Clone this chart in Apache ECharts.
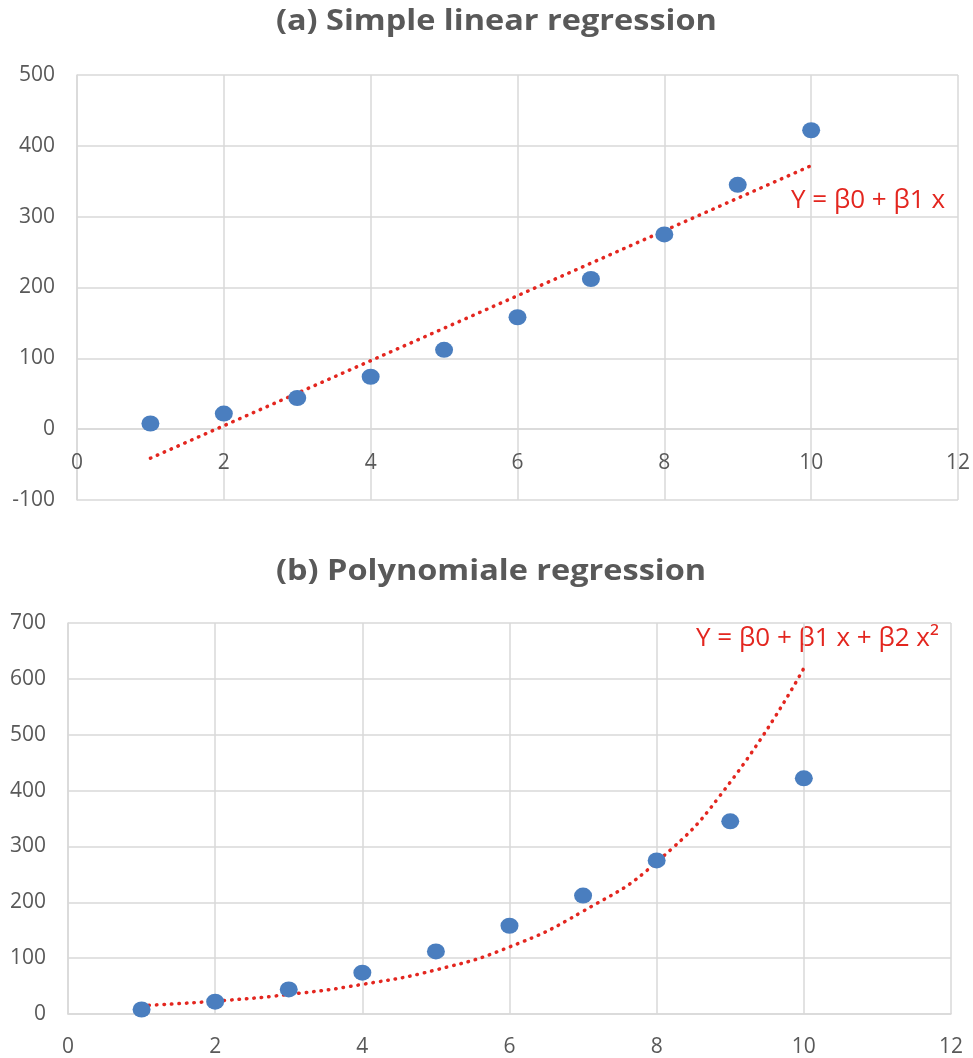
<!DOCTYPE html>
<html>
<head>
<meta charset="utf-8">
<script src="https://cdn.jsdelivr.net/npm/echarts@6/dist/echarts.min.js"></script>
<style>
html,body{margin:0;padding:0;background:#fff;}
#c{width:973px;height:1058px;}
</style>
</head>
<body>
<div id="c"></div>
<script>
// ---- data ----
const xValues = [1, 2, 3, 4, 5, 6, 7, 8, 9, 10];
const yValues = [8, 22, 44, 74, 112, 158, 212, 275, 345, 422];
const linearTrendX = [1, 10];
const linearTrendY = [-41, 372];
const polyTrendY = [15, 23, 35, 53, 79, 120, 184, 272, 415, 619];
const titles = ['(a) Simple linear regression', '(b) Polynomiale regression'];
const equations = ['Y = \u03b20 + \u03b21 x', 'Y = \u03b20 + \u03b21 x + \u03b22 x\u00b2'];

const GRAY = '#595959';
const GRID = '#d9d9d9';
const RED = '#e3261f';
const BLUE = '#4a7ebf';
const FONT = 'Open Sans';

const pts = xValues.map((x, i) => [x, yValues[i]]);
const linPts = linearTrendX.map((x, i) => [x, linearTrendY[i]]);
const polyPts = xValues.map((x, i) => [x, polyTrendY[i]]);

// top chart: 600 units over 425 px -> zero line sits 100 units above the bottom
const TOP_H = 425;
const zeroOffsetTop = -TOP_H * 100 / 600;

function xAxis(gi, offset) {
  return {
    type: 'value', gridIndex: gi, min: 0, max: 12, interval: 2, offset: offset,
    axisLine: { show: true, onZero: false, lineStyle: { color: GRID, width: 1.5 } },
    axisTick: { show: false },
    axisLabel: { color: GRAY, fontSize: 21, fontFamily: FONT, margin: 23 },
    splitLine: { show: true, lineStyle: { color: GRID, width: 1.5 } }
  };
}
function yAxis(gi, min, max) {
  return {
    type: 'value', gridIndex: gi, min: min, max: max, interval: 100,
    axisLine: { show: true, lineStyle: { color: GRID, width: 1.5 } },
    axisTick: { show: false },
    axisLabel: { color: GRAY, fontSize: 21, fontFamily: FONT, margin: 22 },
    splitLine: { show: true, lineStyle: { color: GRID, width: 1.5 } }
  };
}
const dotted = { color: RED, width: 3.5, type: [0.5, 7], cap: 'round' };
const titleStyle = { fontSize: 29, fontWeight: 'bold', fill: GRAY, fontFamily: FONT, verticalAlign: 'middle' };

const option = {
  backgroundColor: '#ffffff',
  animation: false,
  grid: [
    { left: 77, right: 15, top: 75, height: TOP_H },
    { left: 68, right: 22, top: 623, height: 395 }
  ],
  xAxis: [xAxis(0, zeroOffsetTop), xAxis(1, 0)],
  yAxis: [yAxis(0, -100, 500), yAxis(1, 0, 700)],
  graphic: [
    { type: 'text', x: 276, y: 22, scaleX: 1.12, style: Object.assign({ text: titles[0] }, titleStyle) },
    { type: 'text', x: 276, y: 572, scaleX: 1.12, style: Object.assign({ text: titles[1] }, titleStyle) },
    { type: 'text', x: 945, y: 201, style: { text: equations[0], fill: RED, fontSize: 26, fontFamily: FONT, align: 'right', verticalAlign: 'middle' } },
    { type: 'text', x: 939, y: 639, style: { text: equations[1], fill: RED, fontSize: 26, fontFamily: FONT, align: 'right', verticalAlign: 'middle' } }
  ],
  series: [
    { type: 'line', xAxisIndex: 0, yAxisIndex: 0, data: linPts, symbol: 'none', lineStyle: dotted, z: 3 },
    { type: 'scatter', xAxisIndex: 0, yAxisIndex: 0, data: pts, symbolSize: [18, 16], itemStyle: { color: BLUE, opacity: 1 }, z: 4 },
    { type: 'line', xAxisIndex: 1, yAxisIndex: 1, data: polyPts, symbol: 'none', smooth: 0.5, lineStyle: dotted, z: 3 },
    { type: 'scatter', xAxisIndex: 1, yAxisIndex: 1, data: pts, symbolSize: [18, 16], itemStyle: { color: BLUE, opacity: 1 }, z: 4 }
  ]
};
echarts.init(document.getElementById('c')).setOption(option);
</script>
</body>
</html>
